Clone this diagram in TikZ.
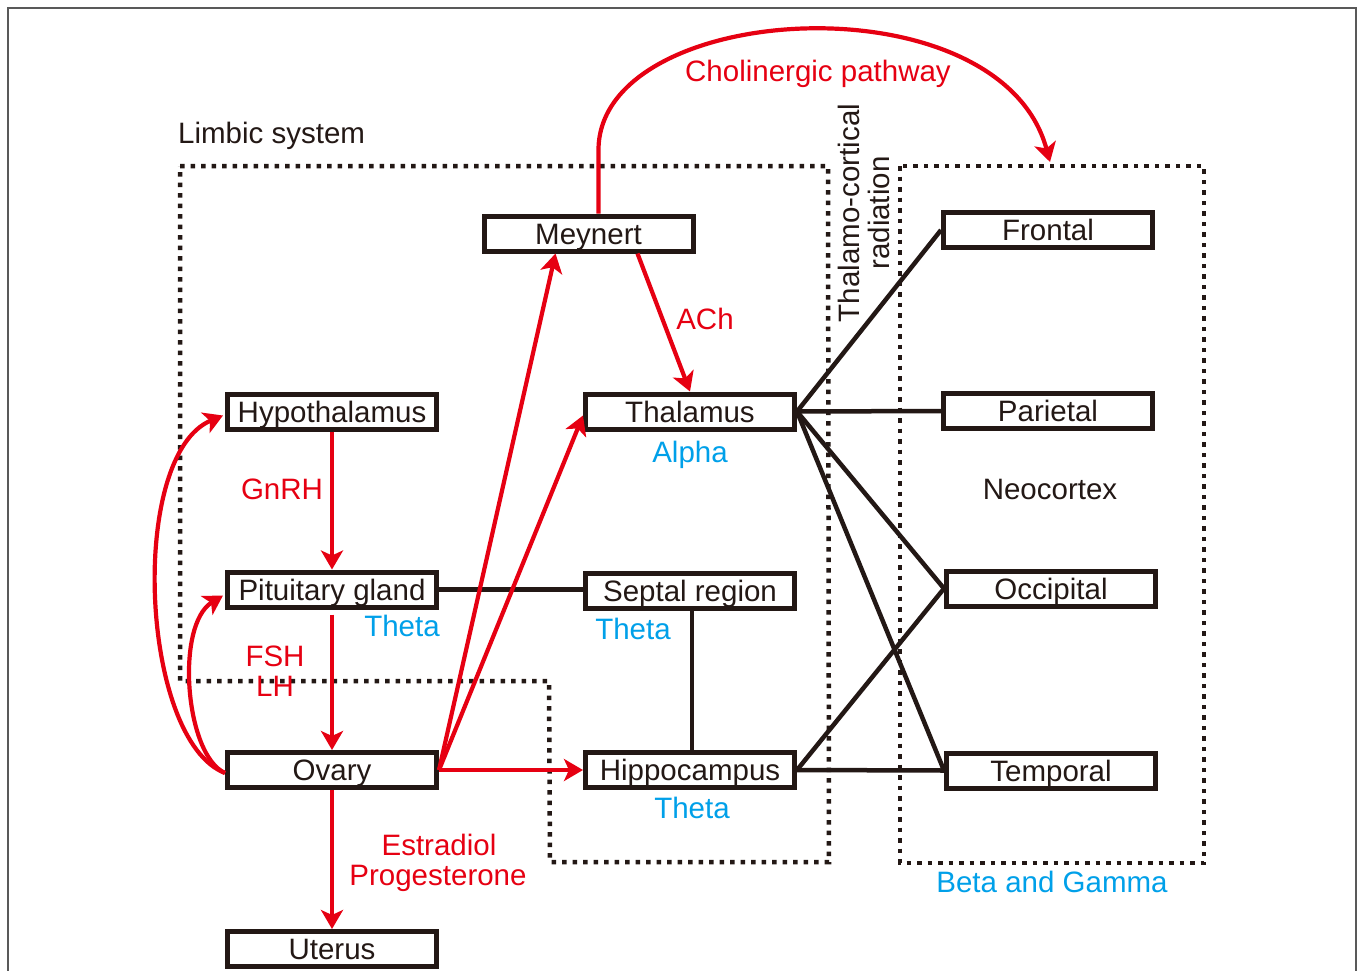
\documentclass[tikz,border=0pt]{standalone}
\usepackage{fontspec}
\setmainfont{Liberation Sans}
\usetikzlibrary{arrows.meta,calc}
\definecolor{myred}{HTML}{E60012}
\definecolor{myblue}{HTML}{00A0E9}
\definecolor{myblack}{HTML}{231815}
\newcommand{\fsz}{\fontsize{29.5}{30}\selectfont}
\begin{document}
\begin{tikzpicture}[x=1pt,y=-1pt,
  boxnode/.style={draw=myblack, line width=5pt, minimum width=209pt, minimum height=35pt, inner sep=0pt, text height=21pt, text depth=0pt, font=\fsz, text=myblack},
  lbl/.style={inner sep=0pt, text height=21pt, text depth=0pt, font=\fsz},
  redlbl/.style={lbl, text=myred},
  bluelbl/.style={lbl, text=myblue},
  redarr/.style={draw=myred, line width=4.2pt, -{Stealth[length=19pt,width=22pt,inset=5pt]}},
  blkline/.style={draw=myblack, line width=4.5pt},
  dotbox/.style={draw=myblack, line width=4.5pt, dash pattern=on 4.5pt off 6pt},
  frame/.style={draw=black!65, line width=1.5pt}]
\useasboundingbox (0,0) rectangle (1358,970);
\fill[white] (0,0) rectangle (1358,970);
% outer frame
\draw[frame] (8,985) -- (8,8) -- (1356,8) -- (1356,985);

% dotted regions
\draw[dotbox] (180,166) -- (828,166) -- (829,862) -- (550,862) -- (549,681) -- (180,681) -- cycle;
\draw[dotbox] (900,166) rectangle (1204,863);

% boxes
\node[boxnode] (mey)   at (588.5,233.5) {Meynert};
\node[boxnode] (hyp)   at (332,411.5) {Hypothalamus};
\node[boxnode] (thal)  at (690,411.5) {Thalamus};
\node[boxnode] (pit)   at (332,589.5) {Pituitary gland};
\node[boxnode] (sep)   at (690,590.5) {Septal region};
\node[boxnode] (ov)    at (332,770) {Ovary};
\node[boxnode] (hip)   at (690,770) {Hippocampus};
\node[boxnode] (ut)    at (332,949) {Uterus};
\node[boxnode] (front) at (1048,230) {Frontal};
\node[boxnode] (par)   at (1048,411) {Parietal};
\node[boxnode] (occ)   at (1051,588.5) {Occipital};
\node[boxnode] (temp)  at (1051,770.5) {Temporal};

% labels
\node[lbl, anchor=west, text=myblack] (limbic) at (178,132.5) {Limbic system};
\node[redlbl] (chol) at (818,71) {Cholinergic pathway};
\node[redlbl] (ach) at (705,319) {ACh};
\node[bluelbl] (alpha) at (690,452) {Alpha};
\node[redlbl] (gnrh) at (282,488.5) {GnRH};
\node[bluelbl] (th1) at (402,625.5) {Theta};
\node[bluelbl] (th2) at (633,629) {Theta};
\node[redlbl] (fsh) at (275,655.5) {FSH};
\node[redlbl] (lh) at (275,685.5) {LH};
\node[bluelbl] (th3) at (692,808) {Theta};
\node[redlbl] (estr) at (439,845) {Estradiol};
\node[redlbl] (prog) at (438,875) {Progesterone};
\node[lbl, text=myblack] (neo) at (1050,489) {Neocortex};
\node[bluelbl] (beta) at (1052,882) {Beta and Gamma};
\node[inner sep=0pt, font=\fsz, text=myblack, align=center, rotate=90] (tcr) at (863.5,213) {Thalamo-cortical\\radiation};

% black connectors
\draw[blkline] (pit.east) -- (pit.east -| sep.west);
\draw[blkline] ($(sep.south)+(2,0)$) -- ($(hip.north)+(2,0)$);
\draw[blkline] (thal.east) -- (front.west);
\draw[blkline] (thal.east) -- (par.west);
\draw[blkline] (thal.east) -- (occ.west);
\draw[blkline] (thal.east) -- (temp.west);
\draw[blkline] (hip.east) -- (occ.west);
\draw[blkline] (hip.east) -- (temp.west);

% red arrows
\coordinate (cholstart) at ($(mey.north)+(10,0)$);
\coordinate (cholend) at (1050,162);
\draw[redarr] (cholstart) -- (598.5,150) .. controls (598.5,0) and (1000,-24) .. (cholend);
\draw[redarr] ($(mey.south)+(49,0)$) -- (thal.north);
\draw[redarr] (ov.east) -- ($(mey.south)+(-33,0)$);
\draw[redarr] (ov.east) -- ($(thal.west)+(0,4)$);
\draw[redarr] (ov.east) -- (hip.west);
\draw[redarr] (hyp.south) -- (pit.north);
\draw[redarr] ($(pit.south)+(0,5)$) -- (ov.north);
\draw[redarr] (ov.south) -- (ut.north);
\draw[redarr] ($(ov.west)+(0,3)$) .. controls (140,740) and (128,455) .. ($(hyp.west)+(-2,4)$);
\draw[redarr] ($(ov.west)+(0,3)$) .. controls (185,755) and (175,625) .. ($(pit.west)+(-2,6)$);
\end{tikzpicture}
\end{document}
